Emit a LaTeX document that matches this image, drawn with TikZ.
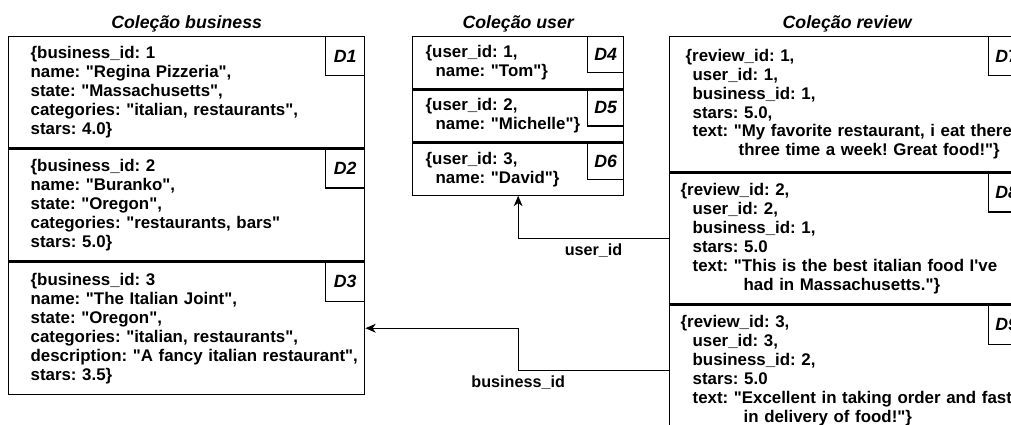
\documentclass[tikz,border=0pt]{standalone}
\usepackage{fontspec}
\setmainfont{Liberation Sans}[Ligatures=TeXOff]
\usetikzlibrary{arrows.meta,positioning}
\frenchspacing

\begin{document}
\begin{tikzpicture}[
    x=0.025cm, y=-0.025cm,
    doc/.style={draw, line width=0.9pt, align=left, inner xsep=0pt, inner ysep=0pt,
        font=\bfseries\fontsize{12}{13.5}\selectfont},
    bdoc/.style={doc, text width=8.9cm, execute at begin node={\leftskip=0.55cm}},
    udoc/.style={doc, text width=5.275cm, minimum height=1.3cm, execute at begin node={\leftskip=0.325cm}},
    rdoc/.style={doc, text width=8.875cm, execute at begin node={\leftskip=0.275cm}},
    tag/.style={draw, line width=0.9pt, fill=white, inner sep=0pt, anchor=north east,
        minimum width=0.975cm, minimum height=0.975cm, font=\bfseries\itshape\fontsize{12.6}{14}\selectfont},
    title/.style={font=\bfseries\itshape\fontsize{12.6}{14}\selectfont},
    lbl/.style={font=\bfseries\fontsize{11.5}{13}\selectfont},
    link/.style={line width=0.7pt, -{Stealth[length=0.26cm, width=0.22cm, inset=0.08cm]}}
]
\useasboundingbox (0,0) rectangle (1011,425);
\clip (0,0) rectangle (1011,425);

% business
\node[bdoc, minimum height=2.775cm, anchor=north west] (d1) at (8,36)
    {\{business\_id: 1\\ name: "Regina Pizzeria",\\ state: "Massachusetts",\\
     categories: "italian, restaurants",\\ stars: 4.0\}};
\node[bdoc, minimum height=2.8cm, below=0pt of d1] (d2)
    {\{business\_id: 2\\ name: "Buranko",\\ state: "Oregon",\\
     categories: "restaurants, bars"\\ stars: 5.0\}};
\node[bdoc, minimum height=3.3cm, below=0pt of d2] (d3)
    {\{business\_id: 3\\ name: "The Italian Joint",\\ state: "Oregon",\\
     categories: "italian, restaurants",\\ description: "A fancy italian restaurant",\\ stars: 3.5\}};
\node[title, above=-1pt of d1] (tbus) {Coleção business};
\node[tag] (k1) at (d1.north east) {D1};
\node[tag] (k2) at (d2.north east) {D2};
\node[tag] (k3) at (d3.north east) {D3};

% user
\node[udoc, anchor=north west] (d4) at (412,36)
    {\{user\_id: 1,\\ \hspace*{0.25cm}name: "Tom"\}};
\node[udoc, below=0pt of d4] (d5)
    {\{user\_id: 2,\\ \hspace*{0.25cm}name: "Michelle"\}};
\node[udoc, below=0pt of d5] (d6)
    {\{user\_id: 3,\\ \hspace*{0.25cm}name: "David"\}};
\node[title, above=-1pt of d4] (tuser) {Coleção user};
\node[tag, minimum width=0.9cm, minimum height=0.9cm] (k4) at (d4.north east) {D4};
\node[tag, minimum width=0.9cm, minimum height=0.9cm] (k5) at (d5.north east) {D5};
\node[tag, minimum width=0.9cm, minimum height=0.9cm] (k6) at (d6.north east) {D6};

% review
\node[rdoc, minimum height=3.375cm, anchor=north west] (d7) at (669,36)
    {\hspace*{0.125cm}\{review\_id: 1,\\ \hspace*{0.3cm}user\_id: 1,\\ \hspace*{0.3cm}business\_id: 1,\\
     \hspace*{0.3cm}stars: 5.0,\\ \hspace*{0.3cm}text: "My favorite restaurant, i eat there\\
     \hspace*{1.45cm}three time a week! Great food!"\}};
\node[rdoc, minimum height=3.275cm, below=0pt of d7] (d8)
    {\{review\_id: 2,\\ \hspace*{0.3cm}user\_id: 2,\\ \hspace*{0.3cm}business\_id: 1,\\
     \hspace*{0.3cm}stars: 5.0\\ \hspace*{0.3cm}text: "This is the best italian food I've\\
     \hspace*{1.575cm}had in Massachusetts."\}};
\node[rdoc, minimum height=3.275cm, below=0pt of d8] (d9)
    {\{review\_id: 3,\\ \hspace*{0.3cm}user\_id: 3,\\ \hspace*{0.3cm}business\_id: 2,\\
     \hspace*{0.3cm}stars: 5.0\\ \hspace*{0.3cm}text: "Excellent in taking order and fast\\
     \hspace*{1.575cm}in delivery of food!"\}};
\node[title, above=-1pt of d7] (trev) {Coleção review};
\node[tag, minimum width=0.9cm] (k7) at (d7.north east) {D7};
\node[tag, minimum width=0.9cm] (k8) at (d8.north east) {D8};
\node[tag, minimum width=0.9cm] (k9) at (d9.north east) {D9};

% references
\draw[link] (d8.west) -| node[lbl, pos=0.25, below=0pt] (uid) {user\_id} (d6.south);
\draw[link] (d9.west) -- (d9.west -| d6.south) node[lbl, below=0pt] (bid) {business\_id} |- (d3.east);
\end{tikzpicture}
\end{document}
